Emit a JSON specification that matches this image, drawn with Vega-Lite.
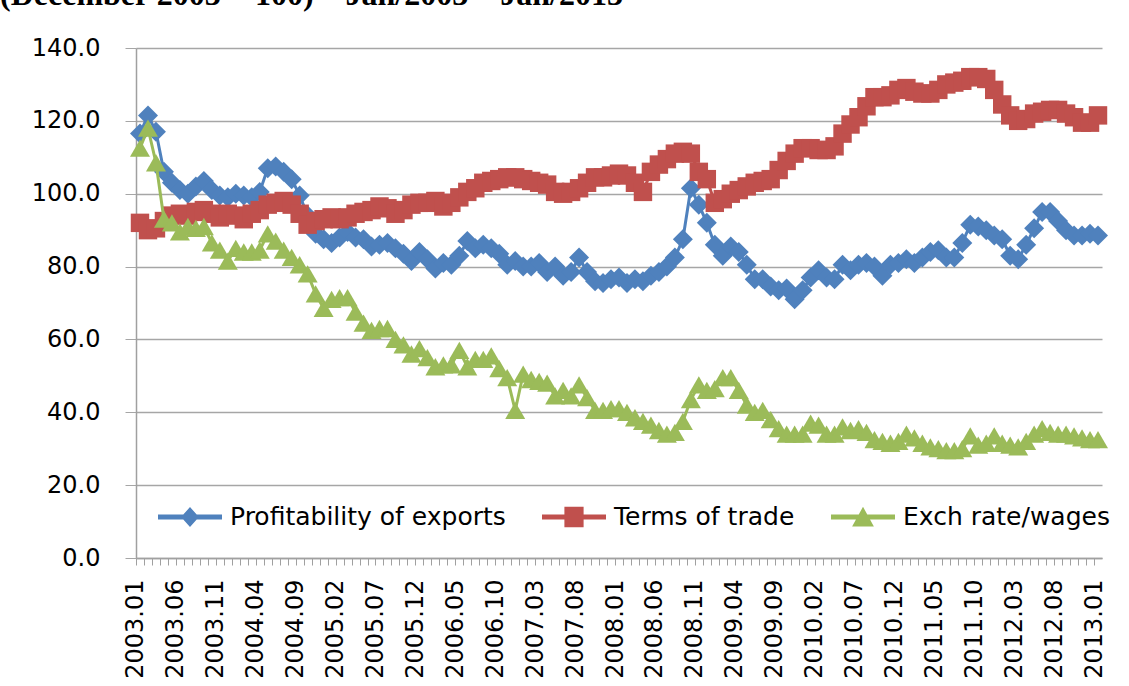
{
  "$schema": "https://vega.github.io/schema/vega-lite/v6.json",
  "width": 966,
  "height": 510,
  "autosize": {"type": "none"},
  "padding": {"left": 136, "top": 48, "right": 27, "bottom": 128},
  "background": "white",
  "title": {
    "text": "(December 2003 = 100) – Jan/2003 – Jan/2013",
    "anchor": "start",
    "frame": "group",
    "orient": "top",
    "font": "Liberation Serif",
    "fontWeight": "bold",
    "fontSize": 32,
    "color": "black",
    "baseline": "top",
    "dx": -136,
    "offset": 24
  },
  "data": {
    "values": [
      {"m": "2003.01", "p": 116.5, "t": 92, "e": 112.5},
      {"m": "2003.02", "p": 121.5, "t": 90, "e": 118},
      {"m": "2003.03", "p": 117, "t": 90.5, "e": 108.5},
      {"m": "2003.04", "p": 106, "t": 92.5, "e": 93},
      {"m": "2003.05", "p": 103, "t": 94, "e": 92},
      {"m": "2003.06", "p": 101, "t": 94.5, "e": 89.5},
      {"m": "2003.07", "p": 100, "t": 94, "e": 91},
      {"m": "2003.08", "p": 102, "t": 95, "e": 90.5},
      {"m": "2003.09", "p": 103.5, "t": 95.5, "e": 91},
      {"m": "2003.10", "p": 101, "t": 94.5, "e": 86.5},
      {"m": "2003.11", "p": 99.5, "t": 93.5, "e": 84.5},
      {"m": "2003.12", "p": 99, "t": 94.5, "e": 81.5},
      {"m": "2004.01", "p": 100, "t": 94, "e": 85},
      {"m": "2004.02", "p": 99.5, "t": 93, "e": 84},
      {"m": "2004.03", "p": 99, "t": 94.5, "e": 84},
      {"m": "2004.04", "p": 100.5, "t": 95.5, "e": 84.5},
      {"m": "2004.05", "p": 107, "t": 97, "e": 89},
      {"m": "2004.06", "p": 107.5, "t": 97.5, "e": 87},
      {"m": "2004.07", "p": 106, "t": 98, "e": 84.5},
      {"m": "2004.08", "p": 104, "t": 97, "e": 82.5},
      {"m": "2004.09", "p": 99.5, "t": 94.5, "e": 80.5},
      {"m": "2004.10", "p": 94, "t": 91.5, "e": 78},
      {"m": "2004.11", "p": 89, "t": 92.5, "e": 72.5},
      {"m": "2004.12", "p": 87.5, "t": 93, "e": 68.5},
      {"m": "2005.01", "p": 86.5, "t": 93.5, "e": 71},
      {"m": "2005.02", "p": 88, "t": 93, "e": 71.5},
      {"m": "2005.03", "p": 89.5, "t": 93.5, "e": 71.5},
      {"m": "2005.04", "p": 88, "t": 94.5, "e": 67.5},
      {"m": "2005.05", "p": 87.5, "t": 95, "e": 64.5},
      {"m": "2005.06", "p": 85.5, "t": 95.5, "e": 62.5},
      {"m": "2005.07", "p": 86, "t": 96.5, "e": 63},
      {"m": "2005.08", "p": 86.5, "t": 96, "e": 63},
      {"m": "2005.09", "p": 85, "t": 94.5, "e": 60},
      {"m": "2005.10", "p": 83.5, "t": 95.5, "e": 58.5},
      {"m": "2005.11", "p": 81.5, "t": 97, "e": 56},
      {"m": "2005.12", "p": 84, "t": 97.5, "e": 57.5},
      {"m": "2006.01", "p": 82, "t": 97.5, "e": 55},
      {"m": "2006.02", "p": 79.5, "t": 98, "e": 52.5},
      {"m": "2006.03", "p": 81, "t": 96.5, "e": 53},
      {"m": "2006.04", "p": 80.5, "t": 97.5, "e": 53},
      {"m": "2006.05", "p": 83, "t": 99, "e": 57},
      {"m": "2006.06", "p": 87, "t": 100.5, "e": 52.5},
      {"m": "2006.07", "p": 85, "t": 101.5, "e": 54.5},
      {"m": "2006.08", "p": 86, "t": 103, "e": 54.5},
      {"m": "2006.09", "p": 85, "t": 103.5, "e": 55.5},
      {"m": "2006.10", "p": 83.5, "t": 104, "e": 52},
      {"m": "2006.11", "p": 80.5, "t": 104.5, "e": 49.5},
      {"m": "2006.12", "p": 81.5, "t": 104.5, "e": 40.5},
      {"m": "2007.01", "p": 80, "t": 104, "e": 50.5},
      {"m": "2007.02", "p": 80, "t": 103.5, "e": 49},
      {"m": "2007.03", "p": 81, "t": 103, "e": 48.5},
      {"m": "2007.04", "p": 78.5, "t": 102.5, "e": 48},
      {"m": "2007.05", "p": 80, "t": 100.5, "e": 44.5},
      {"m": "2007.06", "p": 77.5, "t": 100, "e": 46},
      {"m": "2007.07", "p": 78.5, "t": 100.5, "e": 44.5},
      {"m": "2007.08", "p": 82.5, "t": 101.5, "e": 47.5},
      {"m": "2007.09", "p": 78.5, "t": 103, "e": 44},
      {"m": "2007.10", "p": 76, "t": 104.5, "e": 40.5},
      {"m": "2007.11", "p": 75.5, "t": 104.5, "e": 40.5},
      {"m": "2007.12", "p": 76.5, "t": 105, "e": 41},
      {"m": "2008.01", "p": 77, "t": 105.5, "e": 41},
      {"m": "2008.02", "p": 75.5, "t": 105, "e": 40},
      {"m": "2008.03", "p": 76.5, "t": 103, "e": 38.5},
      {"m": "2008.04", "p": 76, "t": 100.5, "e": 37.5},
      {"m": "2008.05", "p": 77.5, "t": 106, "e": 36.5},
      {"m": "2008.06", "p": 78.5, "t": 108, "e": 35},
      {"m": "2008.07", "p": 80, "t": 109.5, "e": 34},
      {"m": "2008.08", "p": 82.5, "t": 111, "e": 34.5},
      {"m": "2008.09", "p": 87.5, "t": 111.5, "e": 37.5},
      {"m": "2008.10", "p": 101.5, "t": 111, "e": 43.5},
      {"m": "2008.11", "p": 97, "t": 106, "e": 47.5},
      {"m": "2008.12", "p": 92, "t": 104, "e": 46},
      {"m": "2009.01", "p": 86, "t": 97.5, "e": 46.5},
      {"m": "2009.02", "p": 83, "t": 98.5, "e": 49.5},
      {"m": "2009.03", "p": 85.5, "t": 100, "e": 49.5},
      {"m": "2009.04", "p": 84, "t": 101, "e": 46},
      {"m": "2009.05", "p": 80.5, "t": 102, "e": 42},
      {"m": "2009.06", "p": 76.5, "t": 103, "e": 40},
      {"m": "2009.07", "p": 76.5, "t": 103.5, "e": 40.5},
      {"m": "2009.08", "p": 74.5, "t": 104, "e": 38},
      {"m": "2009.09", "p": 73.5, "t": 106.5, "e": 35.5},
      {"m": "2009.10", "p": 74, "t": 109, "e": 34},
      {"m": "2009.11", "p": 71, "t": 111, "e": 34},
      {"m": "2009.12", "p": 73.5, "t": 112.5, "e": 34},
      {"m": "2010.01", "p": 77, "t": 112.5, "e": 37},
      {"m": "2010.02", "p": 79, "t": 112, "e": 36.5},
      {"m": "2010.03", "p": 77, "t": 112, "e": 34},
      {"m": "2010.04", "p": 76.5, "t": 113, "e": 34},
      {"m": "2010.05", "p": 80.5, "t": 116.5, "e": 36},
      {"m": "2010.06", "p": 79, "t": 119, "e": 35},
      {"m": "2010.07", "p": 80.5, "t": 121, "e": 35.5},
      {"m": "2010.08", "p": 81, "t": 124, "e": 34.5},
      {"m": "2010.09", "p": 80, "t": 126.5, "e": 32.5},
      {"m": "2010.10", "p": 77.5, "t": 126.5, "e": 32},
      {"m": "2010.11", "p": 80.5, "t": 127, "e": 31.5},
      {"m": "2010.12", "p": 81, "t": 128.5, "e": 32},
      {"m": "2011.01", "p": 82, "t": 129, "e": 34},
      {"m": "2011.02", "p": 81, "t": 128, "e": 33},
      {"m": "2011.03", "p": 82.5, "t": 127.5, "e": 31.5},
      {"m": "2011.04", "p": 84, "t": 127.5, "e": 30.5},
      {"m": "2011.05", "p": 84.5, "t": 128.5, "e": 30},
      {"m": "2011.06", "p": 82.5, "t": 130, "e": 29.5},
      {"m": "2011.07", "p": 82.5, "t": 130.5, "e": 29.5},
      {"m": "2011.08", "p": 86.5, "t": 131, "e": 30},
      {"m": "2011.09", "p": 91.5, "t": 132, "e": 33.5},
      {"m": "2011.10", "p": 91, "t": 132, "e": 31},
      {"m": "2011.11", "p": 90, "t": 131.5, "e": 31.5},
      {"m": "2011.12", "p": 88.5, "t": 128.5, "e": 33.5},
      {"m": "2012.01", "p": 87.5, "t": 124.5, "e": 31.5},
      {"m": "2012.02", "p": 83, "t": 121.5, "e": 31},
      {"m": "2012.03", "p": 82, "t": 120, "e": 30.5},
      {"m": "2012.04", "p": 86, "t": 120.5, "e": 32},
      {"m": "2012.05", "p": 90.5, "t": 122, "e": 34},
      {"m": "2012.06", "p": 95, "t": 122.5, "e": 35.5},
      {"m": "2012.07", "p": 95, "t": 123, "e": 34.5},
      {"m": "2012.08", "p": 92.5, "t": 123, "e": 34},
      {"m": "2012.09", "p": 90, "t": 122, "e": 34},
      {"m": "2012.10", "p": 88.5, "t": 121, "e": 33.5},
      {"m": "2012.11", "p": 88.5, "t": 119.5, "e": 33},
      {"m": "2012.12", "p": 89, "t": 119.5, "e": 32.5},
      {"m": "2013.01", "p": 88.5, "t": 121.5, "e": 32.5}
    ]
  },
  "transform": [
    {"fold": ["p", "t", "e"], "as": ["s", "v"]}
  ],
  "encoding": {
    "x": {
      "field": "m",
      "type": "ordinal",
      "scale": {"type": "point", "padding": 0.5},
      "axis": {
        "title": null,
        "labelAngle": -90,
        "labelAlign": "right",
        "labelBaseline": "middle",
        "labelOverlap": false,
        "labelExpr": "(toNumber(slice(datum.value, 0, 4)) * 12 + toNumber(slice(datum.value, 5, 7)) - 24037) % 5 == 0 ? datum.value : ''",
        "tickSize": 7,
        "tickOffset": -4,
        "tickColor": "#a0a0a0",
        "domainColor": "#a0a0a0",
        "domainWidth": 1.5,
        "labelPadding": 14,
        "labelFont": "DejaVu Sans",
        "labelFontSize": 24,
        "labelColor": "black",
        "grid": false
      }
    },
    "y": {
      "field": "v",
      "type": "quantitative",
      "scale": {"domain": [0, 140]},
      "axis": {
        "title": null,
        "values": [0, 20, 40, 60, 80, 100, 120, 140],
        "format": ".1f",
        "grid": true,
        "gridColor": "#a6a6a6",
        "gridWidth": 1.3,
        "tickSize": 11,
        "tickColor": "#a6a6a6",
        "domainColor": "#a0a0a0",
        "domainWidth": 1.5,
        "labelPadding": 25,
        "labelFont": "DejaVu Sans",
        "labelFontSize": 24,
        "labelColor": "black"
      }
    },
    "color": {
      "field": "s",
      "type": "nominal",
      "scale": {
        "domain": ["p", "t", "e"],
        "range": ["#4F81BD", "#C0504D", "#9BBB59"]
      },
      "legend": {
        "title": null,
        "orient": "none",
        "legendX": 22,
        "legendY": 437,
        "direction": "horizontal",
        "padding": 0,
        "symbolSize": 4096,
        "labelOffset": 8,
        "labelLimit": 500,
        "columnPadding": 36,
        "labelFont": "DejaVu Sans",
        "labelFontSize": 25,
        "labelColor": "black",
        "labelExpr": "datum.value == 'p' ? 'Profitability of exports' : datum.value == 't' ? 'Terms of trade' : 'Exch rate/wages'",
        "encode": {
          "symbols": {
            "update": {
              "shape": {"signal": "datum.value == 'p' ? 'M-1,-0.08H1V0.08H-1Z M0,-0.31L0.28,0L0,0.31L-0.28,0Z' : datum.value == 't' ? 'M-1,-0.08H1V0.08H-1Z M-0.3,-0.32H0.3V0.32H-0.3Z' : 'M-1,-0.08H1V0.08H-1Z M0,-0.32L0.34,0.3L-0.34,0.3Z'"},
              "fill": {"signal": "datum.value == 'p' ? '#4F81BD' : datum.value == 't' ? '#C0504D' : '#9BBB59'"},
              "fillOpacity": {"value": 1},
              "strokeWidth": {"value": 0},
              "size": {"value": 4096}
            }
          }
        }
      }
    }
  },
  "layer": [
    {
      "transform": [{"filter": "datum.s == 'p'"}],
      "mark": {"type": "line", "strokeWidth": 3},
      "encoding": {}
    },
    {
      "transform": [{"filter": "datum.s == 'p'"}],
      "mark": {"type": "point", "shape": "diamond", "filled": true, "opacity": 1, "size": 400},
      "encoding": {}
    },
    {
      "transform": [{"filter": "datum.s == 't'"}],
      "mark": {"type": "line", "strokeWidth": 3},
      "encoding": {}
    },
    {
      "transform": [{"filter": "datum.s == 't'"}],
      "mark": {"type": "point", "shape": "square", "filled": true, "opacity": 1, "size": 340},
      "encoding": {}
    },
    {
      "transform": [{"filter": "datum.s == 'e'"}],
      "mark": {"type": "line", "strokeWidth": 3},
      "encoding": {}
    },
    {
      "transform": [{"filter": "datum.s == 'e'"}],
      "mark": {"type": "point", "shape": "triangle-up", "filled": true, "opacity": 1, "size": 400},
      "encoding": {}
    }
  ],
  "config": {
    "view": {"stroke": null}
  }
}
